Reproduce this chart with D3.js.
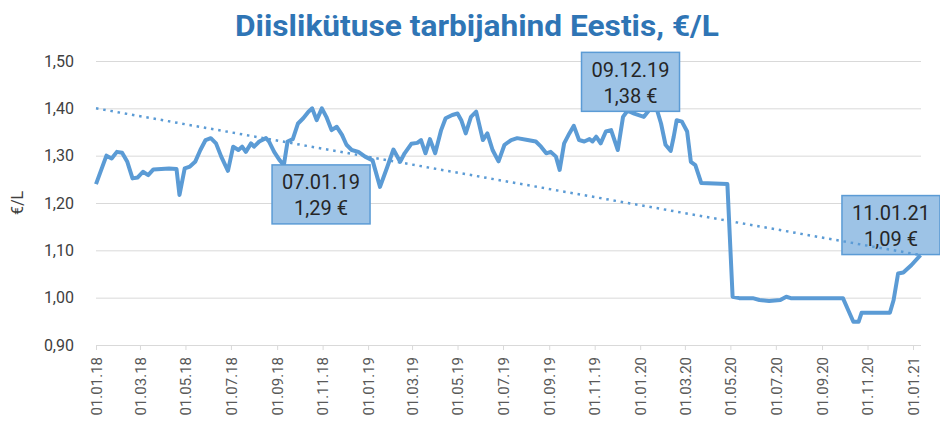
<!DOCTYPE html>
<html>
<head>
<meta charset="utf-8">
<script src="https://cdn.jsdelivr.net/npm/d3@7"></script>
<style>
  body { margin: 0; background: #fff; }
  text { font-family: Roboto, "Noto Sans", sans-serif; }
</style>
</head>
<body>
<script>
const w = 940;
const h = 430;

// weekly-ish price readings, €/L
const dates = [
  "01.01.18","15.01.18","22.01.18","29.01.18","05.02.18","12.02.18","19.02.18","26.02.18",
  "05.03.18","12.03.18","19.03.18","09.04.18","19.04.18","23.04.18","30.04.18","07.05.18",
  "14.05.18","21.05.18","28.05.18","04.06.18","11.06.18","18.06.18","27.06.18","04.07.18",
  "11.07.18","16.07.18","21.07.18","28.07.18","01.08.18","08.08.18","17.08.18","21.08.18",
  "28.08.18","04.09.18","10.09.18","15.09.18","22.09.18","29.09.18","06.10.18","13.10.18",
  "18.10.18","24.10.18","31.10.18","06.11.18","13.11.18","20.11.18","27.11.18","03.12.18",
  "10.12.18","19.12.18","28.12.18","07.01.19","17.01.19","26.01.19","04.02.19","13.02.19",
  "19.02.19","28.02.19","08.03.19","13.03.19","19.03.19","25.03.19","01.04.19","09.04.19",
  "15.04.19","24.04.19","01.05.19","06.05.19","12.05.19","19.05.19","26.05.19","04.06.19",
  "10.06.19","17.06.19","25.06.19","03.07.19","12.07.19","20.07.19","03.08.19","14.08.19",
  "21.08.19","28.08.19","03.09.19","10.09.19","15.09.19","21.09.19","28.09.19","04.10.19",
  "11.10.19","18.10.19","25.10.19","29.10.19","03.11.19","09.11.19","16.11.19","23.11.19",
  "02.12.19","09.12.19","15.12.19","24.12.19","06.01.20","15.01.20","22.01.20","29.01.20",
  "04.02.20","11.02.20","15.02.20","19.02.20","26.02.20","04.03.20","09.03.20","15.03.20",
  "23.03.20","27.04.20","04.05.20","13.05.20","31.05.20","09.06.20","22.06.20","07.07.20",
  "15.07.20","21.07.20","29.09.20","06.10.20","13.10.20","20.10.20","24.10.20","01.12.20",
  "06.12.20","12.12.20","19.12.20","30.12.20","11.01.21"
];
const prices = [
  1.240,1.300,1.294,1.308,1.306,1.287,1.252,1.254,
  1.266,1.259,1.271,1.273,1.272,1.217,1.273,1.277,
  1.287,1.312,1.333,1.337,1.326,1.298,1.268,1.319,
  1.312,1.319,1.308,1.326,1.319,1.330,1.337,1.330,
  1.308,1.291,1.280,1.330,1.335,1.368,1.379,1.393,
  1.400,1.375,1.400,1.382,1.354,1.361,1.344,1.323,
  1.312,1.308,1.298,1.290,1.234,1.273,1.313,1.287,
  1.305,1.325,1.327,1.333,1.305,1.335,1.305,1.354,
  1.379,1.386,1.389,1.375,1.347,1.382,1.393,1.333,
  1.347,1.312,1.288,1.323,1.333,1.337,1.333,1.330,
  1.319,1.305,1.308,1.298,1.270,1.326,1.347,1.363,
  1.333,1.330,1.335,1.330,1.340,1.326,1.351,1.354,
  1.312,1.382,1.395,1.389,1.382,1.400,1.405,1.368,
  1.323,1.310,1.340,1.375,1.372,1.351,1.287,1.280,
  1.242,1.240,1.002,0.999,0.999,0.995,0.993,0.995,
  1.002,0.999,0.999,0.974,0.949,0.949,0.968,0.968,
  0.995,1.051,1.053,1.069,1.090
];

// linear trend, start and end value
const trendValues = [1.40, 1.09];

const yTicks = [0.90, 1.00, 1.10, 1.20, 1.30, 1.40, 1.50];

// labelled points
const notes = [
  { date: "07.01.19", text: "1,29 €" },
  { date: "09.12.19", text: "1,38 €" },
  { date: "11.01.21", text: "1,09 €" }
];

const parse = d3.timeParse("%d.%m.%y");
const fmt = d3.timeFormat("%d.%m.%y");
const comma = d => d3.format(".2f")(d).replace(".", ",");

const dataset = dates.map((d, i) => ({ date: parse(d), price: prices[i] }));

const x = d3.scaleTime()
    .domain([parse("01.01.18"), parse("01.01.21")])
    .range([96, 913]);

const y = d3.scaleLinear()
    .domain([0.9, 1.5])
    .range([345, 61]);

const left = 96, right = 921;

let svg = d3.select("body")
            .append("svg")
                .attr("width", w)
                .attr("height", h);

// title
svg.append("text")
    .attr("x", 477)
    .attr("y", 36)
    .attr("text-anchor", "middle")
    .attr("font-size", 29)
    .attr("font-weight", "bold")
    .attr("fill", "#2f75b5")
    .attr("textLength", 484)
    .attr("lengthAdjust", "spacingAndGlyphs")
    .text("Diislikütuse tarbijahind Eestis, €/L");

// gridlines + y labels
let yAxis = svg.append("g")
    .attr("transform", "translate(" + left + ",0)")
    .call(d3.axisLeft(y).tickValues(yTicks).tickFormat(comma)
            .tickSize(-(right - left)).tickPadding(22));
yAxis.select(".domain").remove();
yAxis.selectAll("line").attr("stroke", "#d9d9d9");
yAxis.selectAll("text")
    .attr("font-size", 16)
    .attr("fill", "#404040");

// y title
svg.append("text")
    .attr("transform", "translate(23,203) rotate(-90)")
    .attr("text-anchor", "middle")
    .attr("font-size", 16)
    .attr("fill", "#404040")
    .text("€/L");

// x axis
let xAxis = svg.append("g")
    .attr("transform", "translate(0," + y(0.9) + ")")
    .call(d3.axisBottom(x).ticks(d3.timeMonth.every(2)).tickFormat(fmt)
            .tickSize(5).tickSizeOuter(0));
xAxis.select(".domain")
    .attr("d", "M" + left + ",0.5H" + right)
    .attr("stroke", "#d9d9d9");
xAxis.selectAll("line").attr("stroke", "#d9d9d9");
xAxis.selectAll("text")
    .attr("font-size", 15)
    .attr("fill", "#595959")
    .attr("text-anchor", "end")
    .attr("transform", "translate(0,12) rotate(-90)")
    .attr("x", 0)
    .attr("y", 0)
    .attr("dy", "0.35em");

// price line
const line = d3.line()
    .x(d => x(d.date))
    .y(d => y(d.price));

svg.append("path")
    .datum(dataset)
    .attr("fill", "none")
    .attr("stroke", "#5b9bd5")
    .attr("stroke-width", 4)
    .attr("stroke-linejoin", "round")
    .attr("d", line);

// labels
const boxW = 98, boxH = 59;
notes.forEach(n => {
    const d = dataset.find(p => fmt(p.date) === n.date);
    let bx, by;
    if (n.date === "07.01.19") { bx = x(d.date) - 101; by = y(d.price) + 4; }
    else if (n.date === "09.12.19") { bx = x(d.date) - 42; by = y(d.price) - 65; }
    else { bx = x(d.date) - 79; by = y(d.price) - 60; }
    let g = svg.append("g").attr("transform", "translate(" + bx + "," + by + ")");
    g.append("rect")
        .attr("x", 0.5).attr("y", 0.5)
        .attr("width", boxW).attr("height", boxH)
        .attr("fill", "#9dc3e6")
        .attr("stroke", "#5b9bd5")
        .attr("stroke-width", 1.5);
    g.append("text")
        .attr("x", boxW / 2 + 0.5).attr("y", 25)
        .attr("text-anchor", "middle")
        .attr("font-size", 20)
        .attr("fill", "#262626")
        .text(n.date);
    g.append("text")
        .attr("x", boxW / 2 + 0.5).attr("y", 51)
        .attr("text-anchor", "middle")
        .attr("font-size", 20)
        .attr("fill", "#262626")
        .text(n.text);
});

// trend (dotted)
const trend = [
    { date: dataset[0].date, price: trendValues[0] },
    { date: dataset[dataset.length - 1].date, price: trendValues[1] }
];
svg.append("path")
    .datum(trend)
    .attr("fill", "none")
    .attr("stroke", "#5b9bd5")
    .attr("stroke-width", 2.5)
    .attr("stroke-dasharray", "2.5,4.8")
    .attr("d", line);
</script>
</body>
</html>
